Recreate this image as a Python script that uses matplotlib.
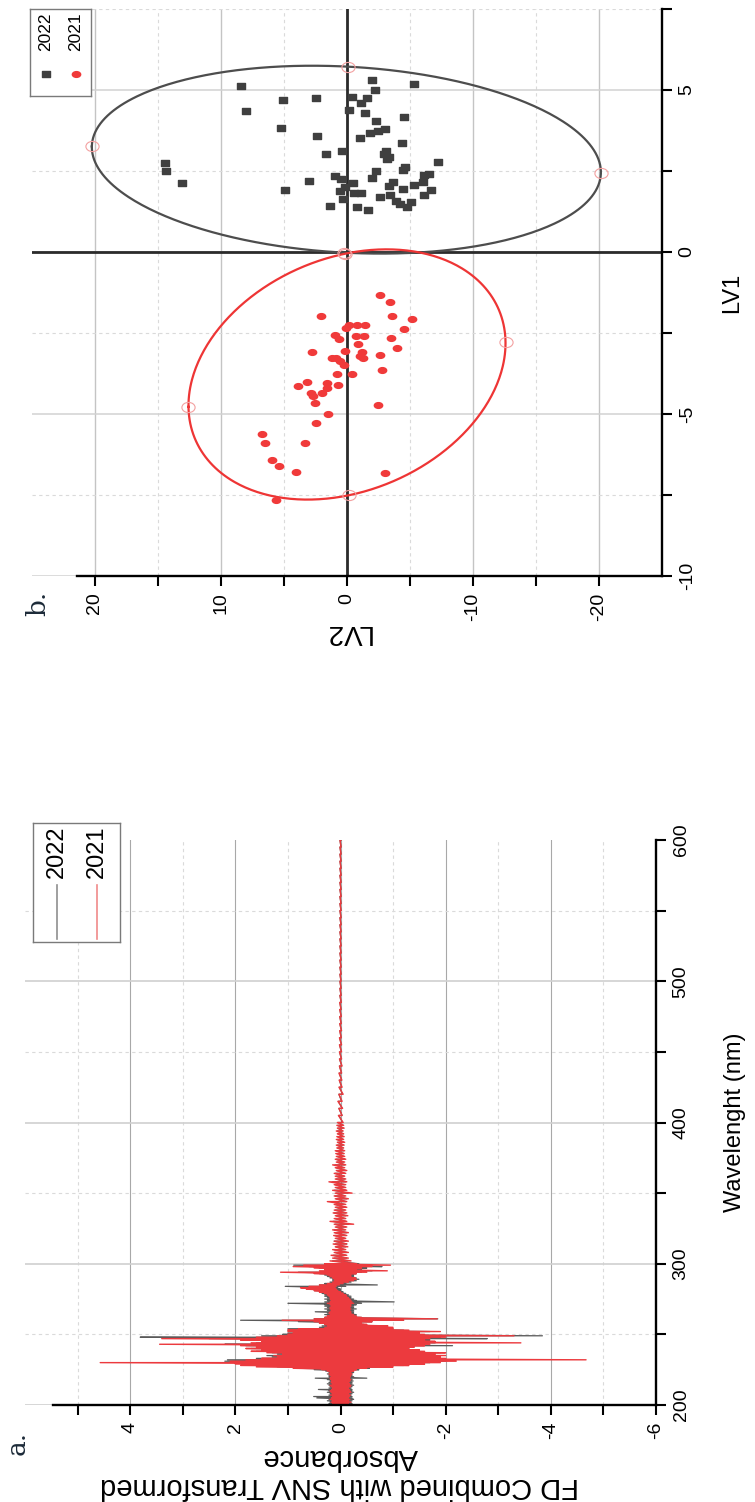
import numpy as np
import matplotlib
matplotlib.use('Agg')
import matplotlib.pyplot as plt
from matplotlib.path import Path
from matplotlib.transforms import Affine2D
from matplotlib.ticker import FixedLocator

plt.rcParams['font.family'] = ['Liberation Sans', 'DejaVu Sans']
plt.rcParams['axes.unicode_minus'] = False

# ---------------- data: panel b (PLS-DA scores) ----------------
lv2_2022 = [8.41, -1.98, -5.32, -2.22, 5.11, 2.46, -0.40, -1.61, -1.11, 8.02, -0.16, -1.46, -4.52, -2.30,
            5.21, -3.04, -2.49, -1.80, 2.41, -1.06, -4.39, 0.40, 1.69, -3.12, -2.91, -3.33, -3.17, -7.25,
            -4.60, -4.42, -2.33, -6.53, -6.14, 0.95, 0.48, -1.96, -6.06, 3.02, -0.48, -3.65, -3.33, -5.29,
            0.16, -4.47, 4.89, 0.53, -0.58, -1.11, -6.69, -6.14, -2.65, -3.39, 0.29, -3.89, -5.11, -4.23,
            -4.76, 1.38, -0.77, -1.69, 14.44, 14.34, 13.07]
lv1_2022 = [5.12, 5.31, 5.17, 5.00, 4.69, 4.75, 4.78, 4.74, 4.61, 4.35, 4.38, 4.28, 4.18, 4.04,
            3.83, 3.81, 3.73, 3.68, 3.57, 3.53, 3.37, 3.13, 3.01, 3.12, 3.02, 2.94, 2.86, 2.79,
            2.63, 2.53, 2.50, 2.42, 2.38, 2.35, 2.26, 2.29, 2.17, 2.19, 2.13, 2.17, 2.04, 2.07,
            2.01, 1.95, 1.92, 1.89, 1.83, 1.81, 1.90, 1.76, 1.70, 1.77, 1.63, 1.56, 1.55, 1.48,
            1.40, 1.42, 1.40, 1.31, 2.74, 2.49, 2.12]
lv2_2021 = [-2.62, -3.39, -3.57, -5.13, 2.04, -0.19, -0.79, -1.43, 0.11, -4.52, 0.93, 0.61, -0.69, -1.38,
            -3.49, -0.85, -3.97, 2.75, 0.13, -1.22, -1.06, -1.24, -2.62, 1.19, 0.85, 0.58, 0.26, -2.75,
            -0.42, 0.79, 3.15, 3.92, 1.56, 0.69, 1.59, 2.83, 1.98, 2.72, 2.54, -2.46, 1.51, 2.46,
            6.72, 6.53, 3.33, 5.93, 5.37, 4.02, -3.04, 5.61]
lv1_2021 = [-1.33, -1.54, -1.99, -2.06, -1.98, -2.25, -2.25, -2.25, -2.36, -2.38, -2.56, -2.69, -2.60, -2.60,
            -2.66, -2.84, -2.96, -3.10, -3.07, -3.08, -3.22, -3.26, -3.19, -3.28, -3.26, -3.36, -3.48, -3.65,
            -3.77, -3.78, -4.00, -4.13, -4.03, -4.12, -4.19, -4.34, -4.36, -4.43, -4.65, -4.72, -4.99, -5.27,
            -5.61, -5.90, -5.91, -6.43, -6.60, -6.79, -6.83, -7.64]
# confidence ellipses: centre and two conjugate half-axis vectors (LV2, LV1)
ell_2022_center = [0.05, 2.85]
ell_2022_u = [20.2, 0.41]
ell_2022_v = [-0.15, 2.87]
ell_2021_center = [0.0, -3.78]
ell_2021_u = [12.58, -1.0]
ell_2021_v = [0.12, 3.73]

# ---------------- data: panel a (spectra envelopes) ----------------
wl_uv = list(range(200, 301))
wl_mid = list(range(302, 401, 2))
wl_vis = list(range(405, 601, 5))

red_hi_uv = [0.17, 0.15, 0.18, 0.16, 0.20, 0.17, 0.15, 0.19, 0.16, 0.18, 0.20, 0.17, 0.15, 0.18, 0.20, 0.16, 0.18, 0.17, 0.19, 0.20, 0.18, 0.20, 0.22, 0.20, 0.25,
             0.35, 0.90, 1.60, 1.90, 2.00, 4.57, 2.10, 1.80, 1.50, 1.20, 1.27, 1.10, 1.40, 1.70, 1.50, 1.80, 1.60, 1.90, 3.44, 1.70, 1.50, 1.90, 3.40, 1.60, 1.20,
             1.00, 0.90, 1.00, 1.00, 0.80, 0.30, 0.25, 0.30, 0.40, 0.50, 1.11, 0.50, 0.30, 0.25, 0.20, 0.22, 0.20, 0.18, 0.20, 0.20, 0.18, 0.20, 0.25, 0.20, 0.18,
             0.20, 0.20, 0.22, 0.25, 0.30, 0.40, 0.50, 0.65, 0.76, 0.60, 0.40, 0.25, 0.15, 0.12, 0.12, 0.15, 0.20, 0.25, 0.50, 1.14, 0.40, 0.30, 0.50, 0.90, 0.70, 0.30]
red_lo_uv = [-0.17, -0.15, -0.20, -0.16, -0.18, -0.15, -0.17, -0.19, -0.16, -0.20, -0.18, -0.17, -0.15, -0.19, -0.20, -0.17, -0.16, -0.18, -0.20, -0.17, -0.19, -0.20, -0.22, -0.20, -0.25,
             -0.30, -0.50, -1.00, -1.30, -1.60, -1.90, -2.20, -4.67, -2.00, -1.90, -2.00, -1.80, -2.00, -1.60, -1.50, -1.30, -1.40, -1.60, -1.70, -3.43, -1.80, -1.60, -1.70, -2.00, -3.30,
             -1.60, -1.50, -1.90, -1.30, -1.00, -1.00, -0.90, -0.50, -0.40, -0.60, -1.20, -1.84, -0.40, -0.30, -0.25, -0.20, -0.20, -0.18, -0.20, -0.18, -0.20, -0.20, -0.25, -0.22, -0.20,
             -0.18, -0.15, -0.12, -0.10, -0.05, 0.00, 0.05, 0.08, 0.10, 0.08, 0.02, -0.05, -0.15, -0.25, -0.30, -0.28, -0.20, -0.20, -0.30, -0.50, -0.89, -0.30, -0.40, -0.60, -0.95, -0.30]
gray_hi_uv = [0.20, 0.22, 0.20, 0.25, 0.22, 0.45, 0.51, 0.22, 0.20, 0.25, 0.22, 0.42, 0.22, 0.20, 0.22, 0.25, 0.22, 0.20, 0.25, 0.48, 0.22, 0.22, 0.25, 0.22, 0.28,
              0.50, 0.80, 1.20, 1.50, 1.80, 2.00, 2.20, 2.15, 1.60, 1.30, 1.40, 1.20, 1.30, 1.60, 1.40, 1.70, 1.50, 1.80, 2.20, 1.60, 1.40, 1.80, 2.50, 3.81, 1.50,
              1.10, 1.00, 0.90, 1.00, 1.00, 0.40, 0.35, 0.30, 0.40, 0.80, 1.90, 0.50, 0.30, 0.25, 0.30, 0.25, 0.48, 0.25, 0.30, 0.25, 0.30, 0.30, 1.00, 0.30, 0.25,
              0.30, 0.25, 0.30, 0.30, 0.35, 0.40, 0.50, 0.60, 0.70, 1.05, 0.40, 0.30, 0.20, 0.15, 0.15, 0.20, 0.25, 0.30, 0.40, 0.80, 0.30, 0.30, 0.40, 0.60, 0.89, 0.30]
gray_lo_uv = [-0.20, -0.22, -0.20, -0.22, -0.25, -0.22, -0.22, -0.20, -0.22, -0.25, -0.22, -0.22, -0.20, -0.22, -0.25, -0.22, -0.22, -0.24, -0.22, -0.50, -0.25, -0.22, -0.22, -0.25, -0.25,
              -0.35, -0.55, -0.90, -1.20, -1.40, -1.70, -2.00, -2.20, -1.80, -1.70, -1.80, -1.60, -1.90, -1.50, -1.24, -1.30, -1.40, -2.13, -1.60, -1.80, -1.60, -1.70, -2.79, -1.90, -3.84,
              -1.50, -1.40, -1.70, -1.20, -1.00, -0.90, -0.80, -0.45, -0.40, -0.60, -1.20, -1.85, -0.40, -0.30, -0.30, -0.25, -0.25, -0.25, -0.30, -0.25, -0.25, -0.30, -0.40, -1.02, -0.30,
              -0.25, -0.20, -0.20, -0.15, -0.10, -0.05, 0.00, 0.00, 0.05, -0.10, -0.70, -0.10, -0.20, -0.30, -0.35, -0.30, -0.25, -0.25, -0.30, -0.40, -0.60, -0.40, -0.50, -0.79, -0.60, -0.35]

red_hi_mid = [0.20, 0.15, 0.18, 0.12, 0.15, 0.10, 0.14, 0.12, 0.10, 0.13, 0.12, 0.15, 0.10, 0.12, 0.20, 0.12, 0.10, 0.14, 0.12, 0.10,
              0.12, 0.25, 0.10, 0.12, 0.10, 0.15, 0.10, 0.12, 0.22, 0.10, 0.10, 0.12, 0.08, 0.10, 0.15, 0.08, 0.10, 0.08, 0.09, 0.10,
              0.07, 0.08, 0.06, 0.08, 0.07, 0.06, 0.08, 0.06, 0.07, 0.06]
red_lo_mid = [-0.20, -0.15, -0.12, -0.15, -0.10, -0.14, -0.12, -0.15, -0.10, -0.12, -0.15, -0.10, -0.12, -0.25, -0.12, -0.10, -0.14, -0.12, -0.10, -0.12,
              -0.10, -0.12, -0.15, -0.10, -0.22, -0.12, -0.10, -0.10, -0.12, -0.10, -0.08, -0.10, -0.12, -0.08, -0.10, -0.08, -0.10, -0.08, -0.07, -0.08,
              -0.06, -0.07, -0.08, -0.06, -0.07, -0.06, -0.05, -0.07, -0.06, -0.05]
gray_hi_mid = [0.15, 0.12, 0.14, 0.10, 0.12, 0.09, 0.10, 0.12, 0.08, 0.10, 0.10, 0.12, 0.08, 0.10, 0.14, 0.10, 0.08, 0.12, 0.10, 0.08,
               0.10, 0.15, 0.08, 0.10, 0.08, 0.12, 0.08, 0.10, 0.15, 0.08, 0.08, 0.10, 0.07, 0.08, 0.10, 0.06, 0.08, 0.06, 0.07, 0.08,
               0.05, 0.06, 0.05, 0.06, 0.05, 0.05, 0.06, 0.05, 0.05, 0.05]
gray_lo_mid = [-0.14, -0.12, -0.10, -0.12, -0.08, -0.10, -0.12, -0.10, -0.08, -0.10, -0.12, -0.08, -0.10, -0.15, -0.10, -0.08, -0.10, -0.10, -0.08, -0.10,
               -0.08, -0.10, -0.12, -0.08, -0.14, -0.10, -0.08, -0.08, -0.10, -0.08, -0.07, -0.08, -0.10, -0.06, -0.08, -0.06, -0.08, -0.06, -0.06, -0.06,
               -0.05, -0.05, -0.06, -0.05, -0.05, -0.05, -0.04, -0.05, -0.05, -0.04]

red_hi_vis = [0.04, 0.03, 0.05, 0.03, 0.03, 0.025, 0.03, 0.02, 0.02, 0.02, 0.02, 0.02, 0.015, 0.015, 0.015, 0.015, 0.015, 0.01, 0.01, 0.01,
              0.01, 0.01, 0.01, 0.01, 0.01, 0.01, 0.01, 0.01, 0.01, 0.01, 0.01, 0.01, 0.01, 0.01, 0.01, 0.01, 0.01, 0.01, 0.01, 0.01]
red_lo_vis = [-0.03, -0.04, -0.03, -0.05, -0.03, -0.025, -0.02, -0.03, -0.02, -0.02, -0.02, -0.015, -0.02, -0.015, -0.015, -0.01, -0.015, -0.01, -0.01, -0.01,
              -0.01, -0.01, -0.01, -0.01, -0.01, -0.01, -0.01, -0.01, -0.01, -0.01, -0.01, -0.01, -0.01, -0.01, -0.01, -0.01, -0.01, -0.01, -0.01, -0.01]
gray_hi_vis = [0.03, 0.03, 0.04, 0.03, 0.02, 0.02, 0.02, 0.02, 0.015, 0.015, 0.015, 0.015, 0.01, 0.01, 0.01, 0.01, 0.01, 0.01, 0.01, 0.01,
               0.01, 0.01, 0.01, 0.01, 0.01, 0.01, 0.01, 0.01, 0.01, 0.01, 0.01, 0.01, 0.01, 0.01, 0.01, 0.01, 0.01, 0.01, 0.01, 0.01]
gray_lo_vis = [-0.03, -0.03, -0.02, -0.04, -0.02, -0.02, -0.02, -0.02, -0.015, -0.015, -0.015, -0.01, -0.015, -0.01, -0.01, -0.01, -0.01, -0.01, -0.01, -0.01,
               -0.01, -0.01, -0.01, -0.01, -0.01, -0.01, -0.01, -0.01, -0.01, -0.01, -0.01, -0.01, -0.01, -0.01, -0.01, -0.01, -0.01, -0.01, -0.01, -0.01]

series_names = ['2022', '2021']
absorb_ticks = [4, 2, 0, -2, -4, -6]
wl_ticks = [200, 300, 400, 500, 600]
lv2_ticks = [20, 10, 0, -10, -20]
lv1_ticks = [5, 0, -5, -10]

# ---------------- styling ----------------
C_GRAY_PT = '#3f3f3f'
C_RED_PT = '#f03a3a'
C_GRAY_LN = '#4d4d4d'
C_RED_LN = '#ee3535'
C_PINK = '#f3a0a0'

W, H = 755, 1502
fig = plt.figure(figsize=(W / 100, H / 100), dpi=100)


def px_axes(x0, y0, x1, y1):
    return fig.add_axes([x0 / W, 1 - y1 / H, (x1 - x0) / W, (y1 - y0) / H])


sq_marker = Path([(-0.72, -0.5), (0.72, -0.5), (0.72, 0.5), (-0.72, 0.5), (-0.72, -0.5)],
                 [Path.MOVETO, Path.LINETO, Path.LINETO, Path.LINETO, Path.CLOSEPOLY])
ov_marker = Affine2D().scale(1.45, 1.0).transform_path(Path.unit_circle())
ring_marker = Affine2D().scale(1.3, 1.0).transform_path(Path.unit_circle())


def style_axes(ax, xmajor, xminor, ymajor, yminor, xbound):
    ax.spines['top'].set_visible(False)
    ax.spines['left'].set_visible(False)
    for s in ('right', 'bottom'):
        ax.spines[s].set_linewidth(1.7)
        ax.spines[s].set_color('black')
    ax.spines['bottom'].set_bounds(*xbound)
    ax.xaxis.set_major_locator(FixedLocator(xmajor))
    ax.xaxis.set_minor_locator(FixedLocator(xminor))
    ax.yaxis.set_major_locator(FixedLocator(ymajor))
    ax.yaxis.set_minor_locator(FixedLocator(yminor))
    ax.yaxis.tick_right()
    ax.yaxis.set_label_position('right')
    ax.tick_params(which='both', direction='out', length=7, width=1.5, color='black',
                   labelsize=14, pad=5)
    ax.tick_params(axis='y', which='both', left=False, right=True, labelleft=False, labelright=True)
    ax.set_axisbelow(True)


# ================= panel b =================
axb = px_axes(32, 9, 662, 576)
axb.set_xlim(25, -25)
axb.set_ylim(-10, 7.5)
style_axes(axb, lv2_ticks, [15, 5, -5, -15], lv1_ticks, [7.5, 2.5, -2.5, -7.5], (21.4, -25))
axb.set_xticklabels([str(t) for t in lv2_ticks], rotation=90, va='top', ha='center')
axb.set_yticklabels([str(t) for t in lv1_ticks], rotation=90, va='center', ha='left')
axb.xaxis.grid(True, which='major', color='#c4c4c4', lw=1.0)
axb.yaxis.grid(True, which='major', color='#d2d2d2', lw=1.1)
axb.grid(True, which='minor', color='#dadada', lw=0.8, ls=(0, (3, 3)))
for t in axb.yaxis.get_minor_ticks():
    if abs(t.get_loc() - 7.5) < 1e-9:
        t.gridline.set_visible(False)

axb.axhline(0, color='#2b2b2b', lw=2.0, zorder=1.5)
axb.axvline(0, color='#2b2b2b', lw=2.0, zorder=1.5)

for cen, u, v, col in [(ell_2022_center, ell_2022_u, ell_2022_v, C_GRAY_LN),
                       (ell_2021_center, ell_2021_u, ell_2021_v, C_RED_LN)]:
    t = np.linspace(0, 2 * np.pi, 400)
    ex = cen[0] + u[0] * np.cos(t) + v[0] * np.sin(t)
    ey = cen[1] + u[1] * np.cos(t) + v[1] * np.sin(t)
    axb.plot(ex, ey, color=col, lw=1.6, zorder=2)
    vx = [cen[0] + u[0], cen[0] - u[0], cen[0] + v[0], cen[0] - v[0]]
    vy = [cen[1] + u[1], cen[1] - u[1], cen[1] + v[1], cen[1] - v[1]]
    axb.plot(vx, vy, ls='none', marker=ring_marker, ms=9.5, mfc='none', mec=C_PINK, mew=0.8, zorder=2.5)

axb.plot(lv2_2022, lv1_2022, ls='none', marker=sq_marker, ms=6.0, color=C_GRAY_PT, mec=C_GRAY_PT,
         zorder=3, label=series_names[0])
axb.plot(lv2_2021, lv1_2021, ls='none', marker=ov_marker, ms=6.0, color=C_RED_PT, mec=C_RED_PT,
         zorder=3, label=series_names[1])

axb.set_xlabel('LV2', rotation=180, fontsize=20, ha='center', va='center')
axb.xaxis.set_label_coords(0.5, -0.099)
axb.set_ylabel('LV1', rotation=90, fontsize=17, ha='center', va='center')
axb.yaxis.set_label_coords(1.111, 0.499)

# legend b (rotated like the figure)
lgb = px_axes(30, 9, 91, 96)
lgb.set_xlim(30, 91)
lgb.set_ylim(96, 9)
lgb.set_xticks([])
lgb.set_yticks([])
for s in lgb.spines.values():
    s.set_color('#7a7a7a')
    s.set_linewidth(1.0)
lgb.text(45.5, 31.5, series_names[0], rotation=90, ha='center', va='center', fontsize=12.5)
lgb.text(75.5, 31.5, series_names[1], rotation=90, ha='center', va='center', fontsize=12.5)
lgb.plot([46], [74], ls='none', marker=sq_marker, ms=6.0, color=C_GRAY_PT)
lgb.plot([75.5], [74], ls='none', marker=ov_marker, ms=6.0, color=C_RED_PT)

fig.text(38 / W, 1 - 603 / H, 'b.', rotation=90, ha='center', va='center', fontsize=19,
         family=['DejaVu Serif'], color='#1c2a38')

# ================= panel a =================
axa = px_axes(25, 840, 656, 1405)
axa.set_xlim(6, -6)
axa.set_ylim(200, 600)
style_axes(axa, absorb_ticks, [5, 3, 1, -1, -3, -5], wl_ticks, [250, 350, 450, 550], (5.47, -6))
axa.set_xticklabels([str(t) for t in absorb_ticks], rotation=90, va='top', ha='center')
axa.set_yticklabels([str(t) for t in wl_ticks], rotation=90, va='center', ha='left')
axa.xaxis.grid(True, which='major', color='#a8a8a8', lw=0.8)
axa.yaxis.grid(True, which='major', color='#d0d0d0', lw=1.2)
axa.grid(True, which='minor', color='#dadada', lw=0.8, ls=(0, (3, 3)))
for t in axa.yaxis.get_major_ticks():
    if abs(t.get_loc() - 600) < 1e-9:
        t.gridline.set_visible(False)

wl_all = np.array(wl_uv + wl_mid + wl_vis, dtype=float)


def zig(hi, lo):
    xs = np.column_stack([hi, lo]).ravel()
    ys = np.column_stack([wl_all, wl_all]).ravel()
    return xs, ys


gx, gy = zig(gray_hi_uv + gray_hi_mid + gray_hi_vis, gray_lo_uv + gray_lo_mid + gray_lo_vis)
rx, ry = zig(red_hi_uv + red_hi_mid + red_hi_vis, red_lo_uv + red_lo_mid + red_lo_vis)
axa.plot(gx, gy, color='#5a5a5a', lw=0.9, zorder=2, label=series_names[0])
axa.plot(rx, ry, color='#ec3a3e', lw=1.0, zorder=2.2, label=series_names[1])

axa.set_xlabel('FD Combined with SNV Transformed\nAbsorbance', rotation=180, fontsize=21,
               ha='center', va='center', linespacing=1.05, multialignment='center')
axa.xaxis.set_label_coords(0.4992, -0.117)
axa.set_ylabel('Wavelenght (nm)', rotation=90, fontsize=17, ha='center', va='center')
axa.yaxis.set_label_coords(1.125, 0.5)

# legend a
lga = px_axes(33, 823, 120, 942)
lga.set_xlim(33, 120)
lga.set_ylim(942, 823)
lga.set_xticks([])
lga.set_yticks([])
for s in lga.spines.values():
    s.set_color('#7a7a7a')
    s.set_linewidth(1.0)
lga.text(57, 852, series_names[0], rotation=90, ha='center', va='center', fontsize=17)
lga.text(97, 852, series_names[1], rotation=90, ha='center', va='center', fontsize=17)
lga.plot([57, 57], [885, 939], color='#8f8f8f', lw=1.2)
lga.plot([97, 97], [885, 939], color='#f08a8a', lw=1.2)

fig.text(17 / W, 1 - 1443 / H, 'a.', rotation=90, ha='center', va='center', fontsize=19,
         family=['DejaVu Serif'], color='#1c2a38')

fig.savefig('out.png', dpi=100)
